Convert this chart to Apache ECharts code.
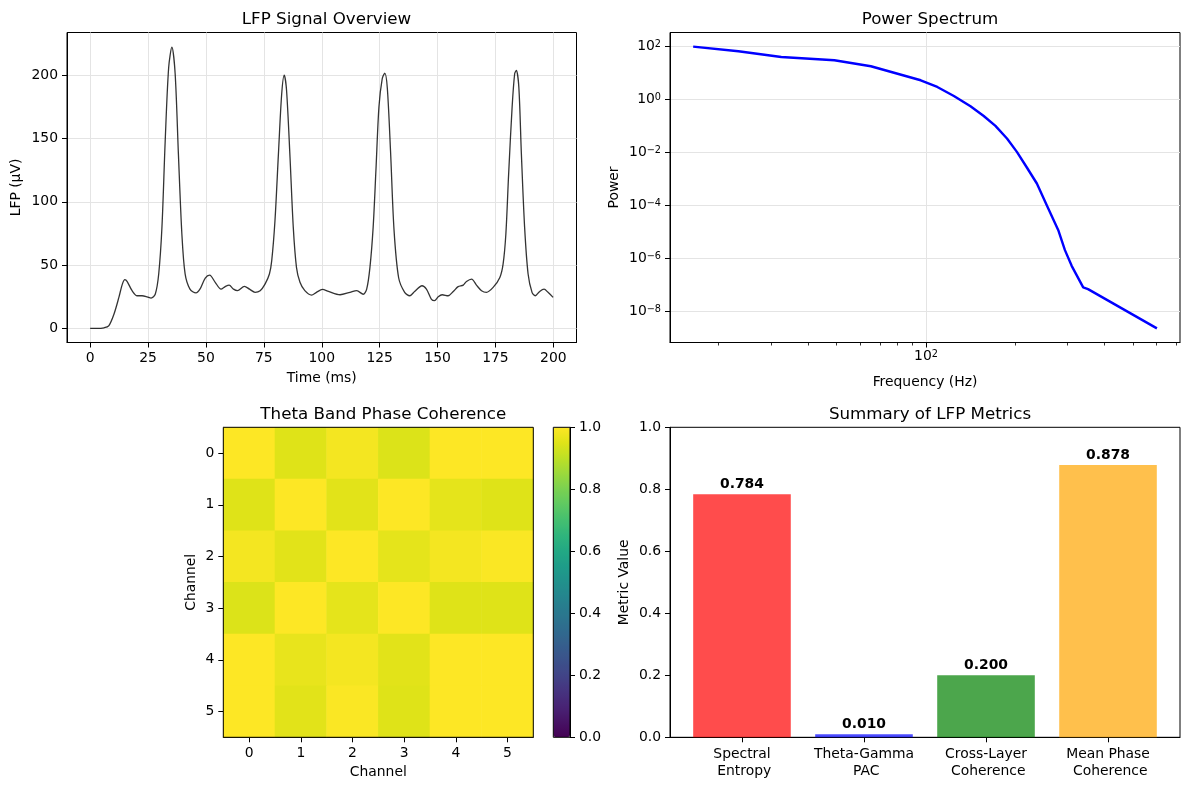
<!DOCTYPE html>
<html>
<head>
<meta charset="utf-8">
<script src="https://cdn.jsdelivr.net/npm/echarts@6.0.0/dist/echarts.min.js"></script>
<style>
  html, body { margin: 0; padding: 0; background: #fff; }
  #chart { width: 1189px; height: 790px; }
</style>
</head>
<body>
<div id="chart"></div>
<script>
// LFP trace (ms, µV)
const lfpTime = [0, 3, 6, 8, 10.3, 12.4, 13.9, 15, 16, 18.1, 20.3, 22.4, 24.6, 26.3, 28.1, 29.6, 31, 32.4, 33.9, 35.3, 36.7, 38.1, 39.6, 41, 43.1, 45.7, 47.4, 49.7,
  51.6, 54, 56.5, 58.3, 60, 61.9, 63.6, 66.6, 68.8, 71.2, 73.4, 75.5, 77.4, 78.4, 79.8, 81.3, 82.7, 83.8, 84.8, 86.3, 87.7, 89.1, 90.6, 92.7, 95.6, 97.7,
  100.3, 102.9, 107.9, 112.2, 115.1, 117.9, 119.4, 120.8, 122.2, 123.4, 124.7, 126.1, 127.2, 128.3, 129.7, 131.2, 133.2, 135.8, 138, 140.1, 143.3, 145.2, 147.3, 148.7,
  150.3, 152, 154.6, 156.8, 158.9, 161.1, 162.5, 164.7, 166.8, 169, 171.1, 174, 176.9, 178.3, 179.5, 180.7, 182.2, 183.3, 184, 185.1, 186.2, 187.6, 189.1, 190.8, 192.2, 194.1, 196, 197.7, 199.9]
const lfpValue = [0, 0, 0.5, 2, 11.4, 24.5, 35, 38.5, 37, 29.8, 25.8, 25.8, 25, 24, 27, 43, 80, 148, 206, 222, 201, 138, 74.6, 43, 31, 28, 31, 39.8,
  42.1, 36.4, 31, 33, 34.2, 31, 29.8, 33.2, 31, 28.5, 29.8, 35, 43, 53.5, 85, 138, 185, 200, 188, 135, 80, 48, 36.4, 29.8, 26.3, 28.5,
  30.8, 29.2, 26.6, 28.5, 29.8, 27, 31, 48, 80, 125, 175, 197, 201.5, 190, 140, 78, 40, 28.5, 25.8, 29.2, 33.7, 31, 23.2, 21.9,
  25, 26.6, 25.8, 29.2, 33, 34.2, 37.1, 39, 34.2, 29.8, 28.5, 32.4, 40.3, 50.8, 74.6, 122, 174.7, 201, 203.6, 190.5, 137.8, 79.8, 43, 28.5, 25.8, 29.2, 31, 28.5, 24.5]

// power spectrum
const specFreq = [16.4, 23.3, 32.5, 49.1, 65.2, 96, 109.2, 124.2, 141.3, 156.6, 171.5, 187.6, 202.6, 218.9, 236.6, 255.5, 279.4, 294.2, 310, 339, 352, 601]
const specPower = [100, 66.6, 40.5, 30.4, 18.1, 5.35, 2.99, 1.37, 0.558, 0.24, 0.101, 0.0337, 0.01055, 0.00272, 6.76e-4, 1.03e-4, 1.17e-5, 2.06e-6, 5.26e-7, 8.05e-8, 6.95e-8, 2.28e-9]

// theta coherence matrix (rows = channel on y)
const channels = ['0', '1', '2', '3', '4', '5']
const coherence = [
  [1.00, 0.95, 0.985, 0.945, 1.00, 1.00],
  [0.95, 1.00, 0.955, 1.00, 0.96, 0.95],
  [0.985, 0.955, 1.00, 0.96, 0.985, 0.995],
  [0.945, 1.00, 0.96, 1.00, 0.95, 0.95],
  [1.00, 0.965, 0.985, 0.955, 1.00, 1.00],
  [1.00, 0.955, 0.995, 0.95, 1.00, 1.00],
]

// summary metrics
const metricNames = ['Spectral\n Entropy', 'Theta-Gamma\n PAC', 'Cross-Layer\n Coherence', 'Mean Phase\n Coherence']
const metricValues = [0.784, 0.010, 0.200, 0.878]

// tick labels
const timeTicks = [0, 25, 50, 75, 100, 125, 150, 175, 200]
const lfpTicks = [0, 50, 100, 150, 200]
const powerTicks = [1e-8, 1e-6, 1e-4, 1e-2, 1, 100]
const freqTicks = [100]
const freqMinorTicks = [20, 30, 40, 50, 60, 70, 80, 90, 200, 300, 400, 500, 600, 700]
const barTicks = [0, 1, 2, 3]

const viridis = ['#440154', '#471365', '#482475', '#463480', '#414487', '#3b528b', '#355f8d', '#2f6c8e', '#2a788e', '#25848e', '#21918c',
  '#1e9c89', '#22a884', '#2fb47c', '#44bf70', '#5ec962', '#7ad151', '#9bd93c', '#bddf26', '#dfe318', '#fde725']

const FONT = 'DejaVu Sans'

// 10^n written as base + raised exponent
function pow10Label(v) {
  const e = Math.round(Math.log10(v))
  return '{b|10}{s|' + (e < 0 ? '−' + (-e) : e) + '}'
}
const powRich = {
  b: { fontSize: 13.9, fontFamily: FONT, color: '#000', lineHeight: 14, padding: [5, 0, 0, 0], verticalAlign: 'bottom' },
  s: { fontSize: 9.7, fontFamily: FONT, color: '#000', lineHeight: 10, verticalAlign: 'top' },
}

const axisLine = { show: true, onZero: false, lineStyle: { color: '#000', width: 1 } }
const axisTick = { show: true, length: 5, lineStyle: { color: '#000', width: 1 } }
const label = { color: '#000', fontSize: 13.9, fontFamily: FONT, margin: 9 }
const nameStyle = { color: '#000', fontSize: 13.9, fontFamily: FONT }
const gridLine = { show: true, lineStyle: { color: '#e4e4e4', width: 1 } }

function title(text, x, top) {
  return { text, left: x, top, textAlign: 'center', textStyle: { color: '#000', fontSize: 16.7, fontWeight: 'normal', fontFamily: FONT } }
}

const heatData = []
coherence.forEach((row, i) => row.forEach((v, j) => heatData.push([j, i, v])))

const chart = echarts.init(document.getElementById('chart'), null, { renderer: 'canvas' })
chart.setOption({
  animation: false,
  backgroundColor: '#fff',
  title: [
    title('LFP Signal Overview', 321.5, 6),
    title('Power Spectrum', 925, 6),
    title('Theta Band Phase Coherence', 378.3, 401),
    title('Summary of LFP Metrics', 925, 401),
  ],
  grid: [
    { left: 67, top: 32.5, width: 509.5, height: 310, show: true, borderColor: '#000', borderWidth: 1, backgroundColor: 'transparent' },
    { left: 670, top: 32.5, width: 510, height: 310, show: true, borderColor: '#000', borderWidth: 1, backgroundColor: 'transparent' },
    { left: 223.3, top: 427.3, width: 310, height: 310, show: true, borderColor: '#000', borderWidth: 1, backgroundColor: 'transparent', z: 10 },
    { left: 553.3, top: 427.3, width: 16.7, height: 310, show: true, borderColor: '#000', borderWidth: 1, backgroundColor: 'transparent', z: 10 },
    { left: 670, top: 427.3, width: 510, height: 310, show: true, borderColor: '#000', borderWidth: 1, backgroundColor: 'transparent' },
  ],
  xAxis: [
    {
      gridIndex: 0, type: 'value', min: -10, max: 210,
      name: 'Time (ms)', nameLocation: 'middle', nameGap: 29, nameTextStyle: nameStyle,
      axisLine, axisTick: { ...axisTick, customValues: timeTicks },
      axisLabel: { ...label, customValues: timeTicks }, splitLine: gridLine,
    },
    {
      gridIndex: 1, type: 'log', min: 13.7, max: 719, position: 'bottom',
      name: 'Frequency (Hz)', nameLocation: 'middle', nameGap: 33, nameTextStyle: nameStyle,
      axisLine, axisTick: { ...axisTick, customValues: freqTicks },
      axisLabel: { ...label, margin: 7, customValues: freqTicks, formatter: pow10Label, rich: powRich }, splitLine: gridLine,
    },
    {
      gridIndex: 1, type: 'log', min: 13.7, max: 719, position: 'bottom',
      axisLine: { show: false }, axisLabel: { show: false }, splitLine: { show: false },
      axisTick: { show: true, length: 3, lineStyle: { color: '#000', width: 0.8 }, customValues: freqMinorTicks },
    },
    {
      gridIndex: 2, type: 'category', data: channels,
      name: 'Channel', nameLocation: 'middle', nameGap: 28, nameTextStyle: nameStyle,
      axisLine, axisTick: { ...axisTick, alignWithLabel: true }, axisLabel: label, splitLine: { show: false },
    },
    { gridIndex: 3, type: 'value', min: 0, max: 1, show: false },
    {
      gridIndex: 4, type: 'value', min: -0.59, max: 3.59,
      axisLine, axisTick: { ...axisTick, customValues: barTicks },
      axisLabel: { ...label, customValues: barTicks, lineHeight: 16.7, formatter: v => metricNames[Math.round(v)] },
      splitLine: { show: false },
    },
  ],
  yAxis: [
    {
      gridIndex: 0, type: 'value', min: -11.1, max: 233.6,
      name: 'LFP (µV)', nameLocation: 'middle', nameGap: 44, nameTextStyle: nameStyle,
      axisLine, axisTick: { ...axisTick, customValues: lfpTicks },
      axisLabel: { ...label, customValues: lfpTicks }, splitLine: gridLine,
    },
    {
      gridIndex: 1, type: 'log', min: 6.7e-10, max: 340.4,
      name: 'Power', nameLocation: 'middle', nameGap: 49, nameTextStyle: nameStyle,
      axisLine, axisTick: { ...axisTick, customValues: powerTicks },
      axisLabel: { ...label, customValues: powerTicks, formatter: pow10Label, rich: powRich }, splitLine: gridLine,
    },
    {
      gridIndex: 2, type: 'category', data: channels, inverse: true,
      name: 'Channel', nameLocation: 'middle', nameGap: 25, nameTextStyle: nameStyle,
      axisLine, axisTick: { ...axisTick, alignWithLabel: true }, axisLabel: label, splitLine: { show: false },
    },
    {
      gridIndex: 3, type: 'value', min: 0, max: 1, interval: 0.2, position: 'right',
      axisLine, axisTick, axisLabel: { ...label, formatter: v => v.toFixed(1) }, splitLine: { show: false },
    },
    {
      gridIndex: 4, type: 'value', min: 0, max: 1, interval: 0.2,
      name: 'Metric Value', nameLocation: 'middle', nameGap: 39, nameTextStyle: nameStyle,
      axisLine, axisTick, axisLabel: { ...label, formatter: v => v.toFixed(1) }, splitLine: { show: false },
    },
  ],
  visualMap: {
    type: 'continuous', seriesIndex: 2, min: 0, max: 1,
    left: 553.3, top: 427.3, itemWidth: 16.7, itemHeight: 310, padding: 0,
    calculable: false, text: null, hoverLink: false, z: 1,
    inRange: { color: viridis },
  },
  series: [
    {
      type: 'line', xAxisIndex: 0, yAxisIndex: 0,
      data: lfpTime.map((t, i) => [t, lfpValue[i]]),
      showSymbol: false, smooth: 0.3,
      lineStyle: { color: 'rgba(0,0,0,0.8)', width: 1.3 },
    },
    {
      type: 'line', xAxisIndex: 1, yAxisIndex: 1,
      data: specFreq.map((f, i) => [f, specPower[i]]),
      showSymbol: false,
      lineStyle: { color: '#0000ff', width: 2.4 },
    },
    {
      type: 'heatmap', xAxisIndex: 3, yAxisIndex: 2,
      data: heatData,
    },
    {
      type: 'bar', xAxisIndex: 5, yAxisIndex: 4,
      data: metricValues.map((v, i) => ({
        value: [i, v],
        itemStyle: { color: ['rgba(255,0,0,0.7)', 'rgba(0,0,255,0.7)', 'rgba(0,128,0,0.7)', 'rgba(255,165,0,0.7)'][i] },
      })),
      barWidth: 97.6,
      label: {
        show: true, position: 'top', distance: 3,
        color: '#000', fontWeight: 'bold', fontSize: 13.9, fontFamily: FONT,
        formatter: p => p.value[1].toFixed(3),
      },
    },
  ],
})
</script>
</body>
</html>
